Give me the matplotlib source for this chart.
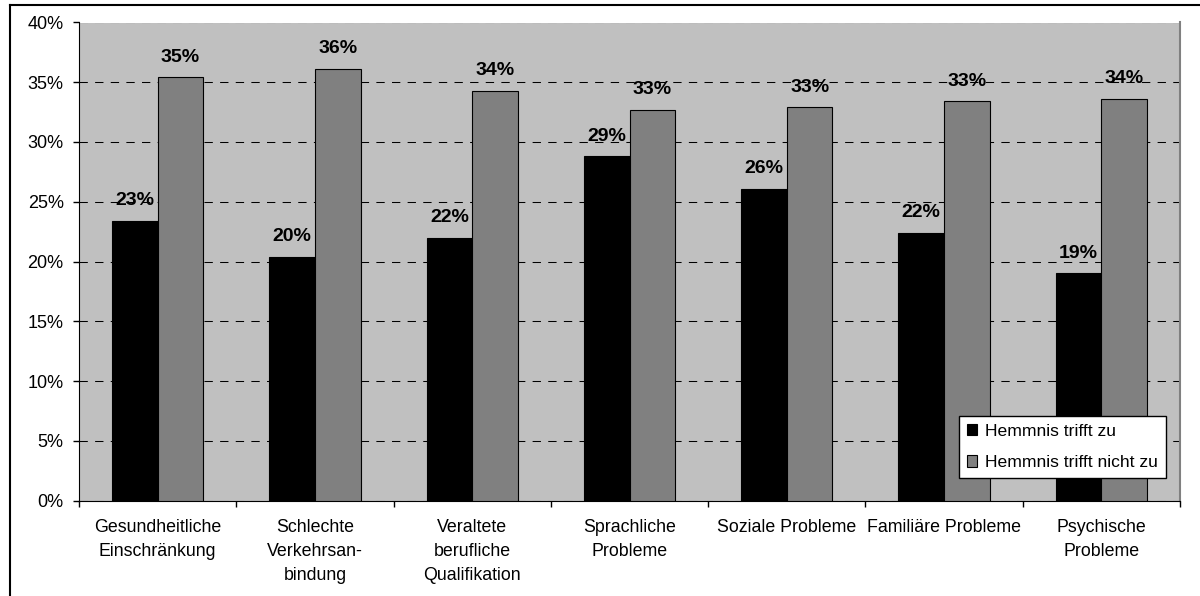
import matplotlib
matplotlib.use("Agg")
import matplotlib.pyplot as plt
from matplotlib import font_manager
from matplotlib.lines import Line2D
import numpy as np

categories = [
    "Gesundheitliche\nEinschränkung",
    "Schlechte\nVerkehrsan-\nbindung",
    "Veraltete\nberufliche\nQualifikation",
    "Sprachliche\nProbleme",
    "Soziale Probleme",
    "Familiäre Probleme",
    "Psychische\nProbleme",
]
series_names = ["Hemmnis trifft zu", "Hemmnis trifft nicht zu"]
trifft_zu = [23.4, 20.4, 22.0, 28.8, 26.1, 22.4, 19.0]
trifft_nicht_zu = [35.4, 36.1, 34.3, 32.7, 32.9, 33.4, 33.6]
y_ticks = [0, 5, 10, 15, 20, 25, 30, 35, 40]

names = {f.name for f in font_manager.fontManager.ttflist}
base_font = "Liberation Sans" if "Liberation Sans" in names else "DejaVu Sans"
bold_font = "Liberation Sans Narrow" if "Liberation Sans Narrow" in names else base_font
plt.rcParams["font.family"] = [base_font, "DejaVu Sans"]

W, H = 1200, 596
fig = plt.figure(figsize=(W / 100, H / 100), dpi=100)
fig.patch.set_facecolor("white")

left, right, top, bottom = 79, 1180, 22.5, 500.5
ax = fig.add_axes([left / W, (H - bottom) / H, (right - left) / W, (bottom - top) / H])
ax.set_facecolor("#C0C0C0")

x = np.arange(len(categories))
w = 0.29
b1 = ax.bar(x - w / 2, trifft_zu, w, color="black", edgecolor="black", linewidth=0.8,
            label=series_names[0], zorder=3)
b2 = ax.bar(x + w / 2, trifft_nicht_zu, w, color="#808080", edgecolor="black", linewidth=0.8,
            label=series_names[1], zorder=3)

for bars, vals in ((b1, trifft_zu), (b2, trifft_nicht_zu)):
    for rect, v in zip(bars, vals):
        ax.annotate(f"{v:.0f}%", (rect.get_x() + rect.get_width() / 2, v),
                    xytext=(0, 8.5), textcoords="offset points", ha="center", va="bottom",
                    fontsize=14, fontweight="bold", family=[bold_font, "DejaVu Sans"],
                    zorder=4)

ax.set_xlim(-0.5, len(categories) - 0.5)
ax.set_ylim(0, 40)
ax.set_yticks(y_ticks)
ax.set_yticklabels([f"{t}%" for t in y_ticks], fontsize=13)
ax.tick_params(axis="y", direction="out", length=4, width=1, pad=7, colors="black")

ax.set_xticks(np.arange(len(categories) + 1) - 0.5)
ax.set_xticklabels([])
ax.tick_params(axis="x", which="major", direction="out", length=4, width=1)
ax.set_xticks(x, minor=True)
ax.set_xticklabels(categories, minor=True, fontsize=12.8, linespacing=1.55)
ax.tick_params(axis="x", which="minor", length=0, pad=13)

ax.yaxis.grid(True, color="black", linestyle=(0, (8, 7)), linewidth=0.75, zorder=1)
ax.set_axisbelow(True)

ax.spines["top"].set_visible(False)
ax.spines["right"].set_color("#808080")
ax.spines["right"].set_linewidth(1.5)
ax.spines["left"].set_color("black")
ax.spines["bottom"].set_color("black")

leg = ax.legend(loc="lower right", bbox_to_anchor=(1166 / W, (H - 478) / H),
                bbox_transform=fig.transFigure, borderaxespad=0, fontsize=12.6,
                frameon=True, fancybox=False, edgecolor="black", framealpha=1,
                handlelength=0.6, handleheight=0.6, handletextpad=0.45,
                labelspacing=0.95, borderpad=0.45)
leg.get_frame().set_linewidth(1)
leg.set_zorder(5)

# outer chart border (partially cropped in reference)
fig.add_artist(Line2D([10 / W, 1.01], [1 - 5 / H, 1 - 5 / H], transform=fig.transFigure,
                      color="black", linewidth=1.5))
fig.add_artist(Line2D([10 / W, 10 / W], [1 - 5 / H, -0.01], transform=fig.transFigure,
                      color="black", linewidth=1.5))

fig.savefig("out.png", dpi=100)
